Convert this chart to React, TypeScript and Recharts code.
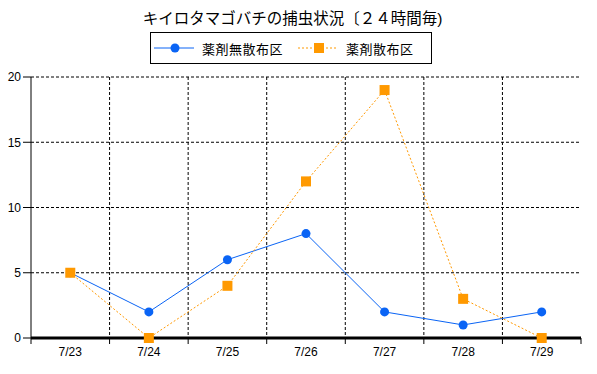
import React from "react";
import {
  LineChart,
  Line,
  XAxis,
  YAxis,
  CartesianGrid,
} from "recharts";

const days = ["7/23", "7/24", "7/25", "7/26", "7/27", "7/28", "7/29"];
const untreated = [5, 2, 6, 8, 2, 1, 2];
const treated = [5, 0, 4, 12, 19, 3, 0];
const yTicks = [0, 5, 10, 15, 20];

const TITLE = "キイロタマゴバチの捕虫状況〔２４時間毎)";
const BLUE = "#0a64f5";
const ORANGE = "#ff9900";
const FONT = "'Liberation Sans', 'Noto Sans CJK JP', sans-serif";

const data = days.map((d, i) => ({
  day: d,
  untreated: untreated[i],
  treated: treated[i],
}));

const series = [
  { key: "untreated", name: "薬剤無散布区", color: BLUE, dash: undefined, shape: "circle", left: 3 },
  { key: "treated", name: "薬剤散布区", color: ORANGE, dash: "2 2", shape: "square", left: 147 },
];

const Square = (props: any) => {
  const { cx, cy, fill } = props;
  if (cx == null || cy == null) return null;
  return <rect x={cx - 5} y={cy - 5} width={10} height={10} fill={fill} />;
};

const DayTick = (props: any) => {
  const { x, y, payload, index } = props;
  const half = payload.offset || 0;
  const last = index === days.length - 1;
  return (
    <g>
      <line x1={x - half} x2={x - half} y1={y} y2={y + 6} stroke="#000" />
      {last && <line x1={x + half} x2={x + half} y1={y} y2={y + 6} stroke="#000" />}
      <text x={x} y={y + 18} textAnchor="middle" fontSize={12} fontFamily={FONT} fill="#000">
        {payload.value}
      </text>
    </g>
  );
};

function LegendBox() {
  return (
    <div
      style={{
        position: "absolute",
        left: 150,
        top: 32,
        width: 280,
        height: 30,
        border: "1px solid #000",
        fontFamily: FONT,
        fontSize: 13,
      }}
    >
      {series.map((s) => (
        <div
          key={s.key}
          style={{
            position: "absolute",
            left: s.left,
            top: 0,
            height: 30,
            display: "flex",
            alignItems: "center",
            whiteSpace: "nowrap",
          }}
        >
          <svg width={40} height={12}>
            <line x1={0} x2={40} y1={6} y2={6} stroke={s.color} strokeDasharray={s.dash} />
            {s.shape === "circle" ? (
              <circle cx={21} cy={6} r={4.5} fill={s.color} />
            ) : (
              <rect x={16} y={1} width={10} height={10} fill={s.color} />
            )}
          </svg>
          <span style={{ marginLeft: 8, letterSpacing: 0.5 }}>{s.name}</span>
        </div>
      ))}
    </div>
  );
}

export default function App() {
  return (
    <div
      style={{
        position: "absolute",
        left: 0,
        top: 0,
        width: 597,
        height: 374,
        background: "#fff",
      }}
    >
      <div
        style={{
          position: "absolute",
          left: 0,
          top: 9,
          width: 585,
          textAlign: "center",
          fontFamily: FONT,
          fontSize: 15.5,
          lineHeight: "20px",
        }}
      >
        {TITLE}
      </div>
      <LegendBox />
      <LineChart
        width={597}
        height={374}
        data={data}
        margin={{ top: 77, right: 16, bottom: 6, left: 0 }}
      >
        <CartesianGrid
          stroke="#000"
          strokeDasharray="3 2"
          verticalCoordinatesGenerator={({ offset }: any) =>
            days.slice(1).map((_, i) => offset.left + ((i + 1) * offset.width) / days.length)
          }
        />
        <XAxis
          dataKey="day"
          scale="band"
          height={30}
          tickSize={0}
          tickMargin={0}
          tickLine={false}
          axisLine={{ stroke: "#000", strokeWidth: 3 }}
          tick={<DayTick />}
          interval={0}
        />
        <XAxis
          xAxisId="top"
          dataKey="day"
          scale="band"
          orientation="top"
          height={0}
          tick={false}
          tickLine={false}
          axisLine={{ stroke: "#000" }}
        />
        <YAxis
          width={31}
          domain={[0, 20]}
          ticks={yTicks}
          tickSize={8}
          tickMargin={2}
          axisLine={{ stroke: "#000" }}
          tickLine={{ stroke: "#000" }}
          tick={{ fill: "#000", fontSize: 12, fontFamily: FONT }}
        />
        <YAxis
          yAxisId="right"
          orientation="right"
          width={0}
          domain={[0, 20]}
          tick={false}
          tickLine={false}
          axisLine={{ stroke: "#000" }}
        />
        <Line
          dataKey="untreated"
          name="薬剤無散布区"
          stroke={BLUE}
          strokeWidth={1}
          dot={{ r: 4.5, fill: BLUE, stroke: "none" }}
          activeDot={false}
          isAnimationActive={false}
        />
        <Line
          dataKey="treated"
          name="薬剤散布区"
          stroke={ORANGE}
          strokeWidth={1}
          strokeDasharray="2 2"
          dot={<Square fill={ORANGE} />}
          activeDot={false}
          isAnimationActive={false}
        />
      </LineChart>
    </div>
  );
}
